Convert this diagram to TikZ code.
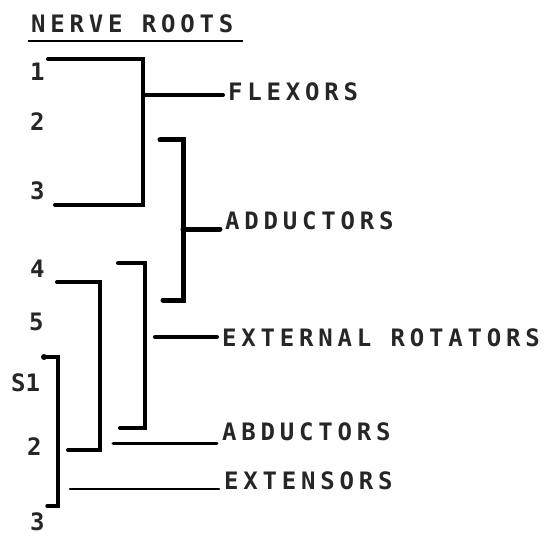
\documentclass[tikz,border=0pt]{standalone}
\usepackage{fontspec}
\setmonofont[LetterSpace=20]{DejaVu Sans Mono}
\newfontfamily\numfont{DejaVu Sans Mono}
\begin{document}
\begin{tikzpicture}[x=1pt,y=-1pt,
  lbl/.style={font=\ttfamily\bfseries\fontsize{24}{24}\selectfont, text=black!85, anchor=base west, inner xsep=5pt, inner ysep=0pt},
  num/.style={font=\numfont\bfseries\fontsize{24}{24}\selectfont, text=black!85, anchor=base west, inner sep=0pt},
  brk/.style={line width=4pt, line cap=round, line join=miter},
  twig/.style={line width=3pt, line cap=round}]
\useasboundingbox (0,0) rectangle (553,537);

% heading
\node[lbl, inner xsep=0pt] (head) at (31,33) {NERVE ROOTS};
\draw[line width=2pt] (28,41) -- (243,41);

% root numbers
\node[num] (n1) at (30,81) {1};
\node[num] (n2) at (30,131) {2};
\node[num] (n3) at (30,200) {3};
\node[num] (n4) at (30,277) {4};
\node[num] (n5) at (29,330) {5};
\node[num] (s1) at (11,391) {S1};
\node[num] (s2) at (27,455) {2};
\node[num] (s3) at (30,530) {3};

% muscle groups
\node[lbl] (flex) at (223,101) {FLEXORS};
\node[lbl] (add)  at (220,229) {ADDUCTORS};
\node[lbl] (ext)  at (217,346) {EXTERNAL ROTATORS};
\node[lbl] (abd)  at (217,440) {ABDUCTORS};
\node[lbl] (exs)  at (219,489) {EXTENSORS};

% junction points on the brackets
\coordinate (jf) at (143,95);
\coordinate (ja) at (183,229);
\coordinate (je) at (155,337);
\coordinate (jb) at (113,443);
\coordinate (jx) at (70,489);

% L1--L3 -> flexors
\draw[brk] (48,59) -- (143,59) -- (143,205) -- (55,205);
\draw[brk] (jf) -- (jf -| flex.west);
% L2--L4 -> adductors
\draw[brk, line width=5pt] (160,140) -- (183,140) -- (183,300) -- (163,300);
\draw[brk, line width=5pt] (ja) -- (ja -| add.west);
% L4--S2 -> external rotators
\draw[brk] (118,263) -- (145,263) -- (145,428) -- (120,428);
\draw[brk] (je) -- (je -| ext.west);
% L4--S2 -> abductors
\draw[brk] (57,282) -- (100,282) -- (100,450) -- (68,450);
\draw[twig] (jb) -- (jb -| abd.west);
% S1--S3 -> extensors
\fill (44,357) circle (3pt);
\draw[brk, line width=3.5pt] (44,357) -- (58,357) -- (58,506) -- (47,506);
\draw[twig, line width=2.5pt] (jx) -- (jx -| exs.west);
\end{tikzpicture}
\end{document}
